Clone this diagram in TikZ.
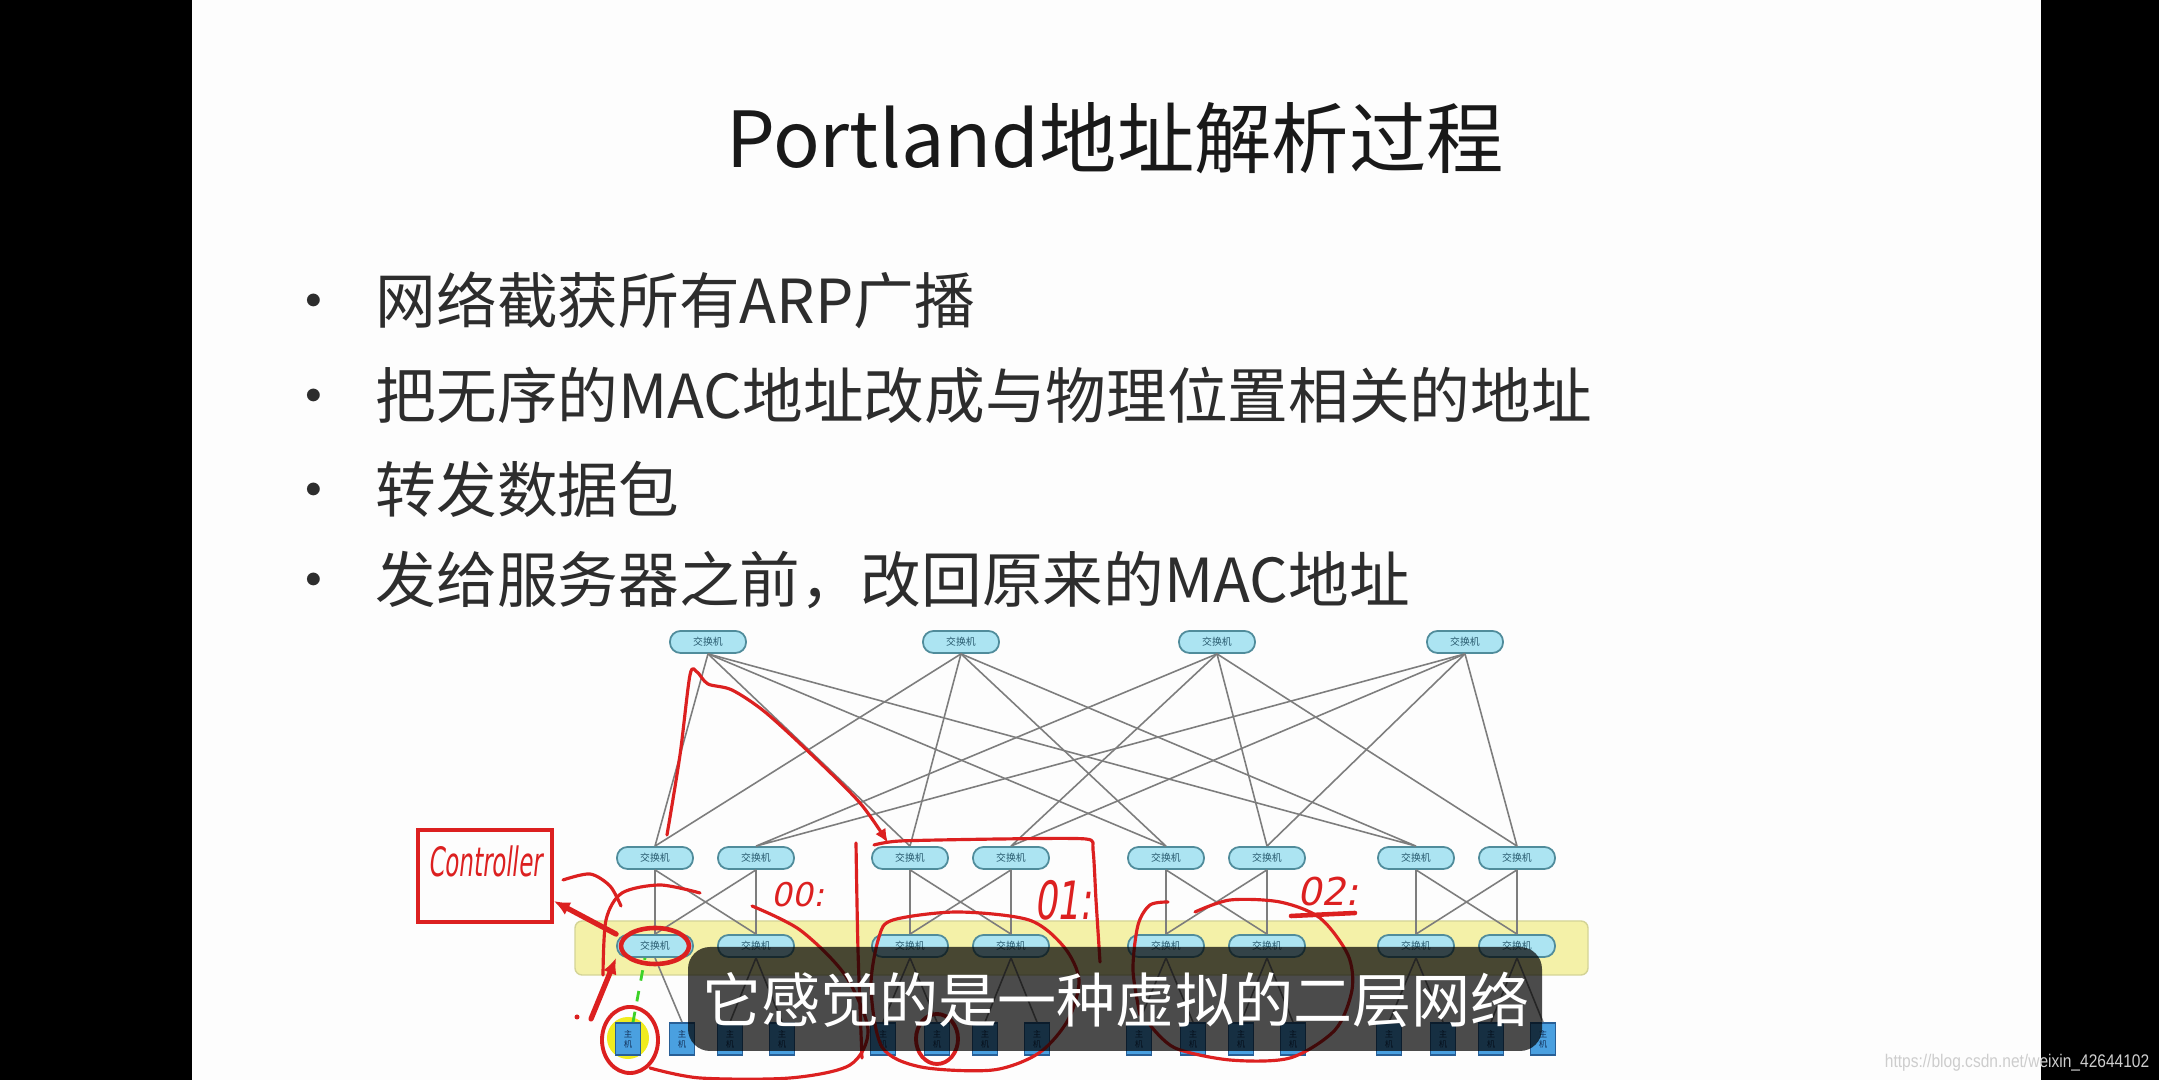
\documentclass[tikz,border=0pt]{standalone}
\usepackage{fontspec}
\usepackage{graphicx}
\usepackage{tikz}
\usetikzlibrary{positioning,arrows.meta}
\setmainfont{Noto Sans CJK SC}
\newfontfamily\penfont[FakeSlant=0.2]{DejaVu Sans}
\newfontfamily\urlfont{Liberation Sans}
\definecolor{slidebg}{RGB}{253,253,253}
\definecolor{titletext}{RGB}{25,25,25}
\definecolor{slidetext}{RGB}{45,45,45}
\definecolor{switchfill}{RGB}{172,228,242}
\definecolor{switchline}{RGB}{80,140,155}
\definecolor{switchtext}{RGB}{40,90,110}
\definecolor{hostfill}{RGB}{74,160,224}
\definecolor{hostline}{RGB}{40,95,150}
\definecolor{hosttext}{RGB}{20,50,90}
\definecolor{bandfill}{RGB}{244,241,168}
\definecolor{bandline}{RGB}{212,212,150}
\definecolor{linkgray}{RGB}{125,125,125}
\definecolor{penred}{RGB}{220,32,32}
\definecolor{pengreen}{RGB}{60,210,40}
\definecolor{hiyellow}{RGB}{240,236,30}
\definecolor{urlgray}{RGB}{205,205,205}

\tikzset{
  switchbox/.style={draw=switchline, fill=switchfill, line width=0.5pt, rounded corners=3pt,
    minimum width=0.76cm, minimum height=0.22cm, inner sep=0pt,
    font=\fontsize{2.8}{3}\selectfont, text=switchtext},
  hostbox/.style={draw=hostline, fill=hostfill, line width=0.5pt, minimum width=0.25cm,
    minimum height=0.32cm, inner sep=0pt, align=center,
    font=\fontsize{2.4}{2.8}\selectfont, text=hosttext},
  netlink/.style={draw=linkgray, line width=0.45pt},
  bullettext/.style={anchor=west, inner sep=0pt, text=slidetext, font=\fontsize{17.25}{20}\selectfont},
  bulletdot/.style={anchor=base, inner sep=0pt, text=slidetext, font=\fontsize{17.25}{20}\selectfont},
  penline/.style={draw=penred, line width=0.9pt, line cap=round, line join=round},
  penarrow/.style={penline, line width=1.5pt, -{Latex[length=0.16cm,width=0.14cm]}},
  pentext/.style={text=penred, inner sep=0pt}
}

\begin{document}
\begin{tikzpicture}[x=0.01cm, y=-0.01cm]
  \useasboundingbox (0,0) rectangle (2159,1080);
  \fill[black] (0,0) rectangle (2159,1080);
  \fill[slidebg] (192,0) rectangle (2041,1080);

  \node[inner sep=0pt, text=titletext, font=\fontsize{22}{26}\selectfont] (title) at (1115,138)
    {Portland地址解析过程};
  \node[bullettext] (b1) at (375,300) {网络截获所有ARP广播};
  \node[bullettext] (b2) at (375,395) {把无序的MAC地址改成与物理位置相关的地址};
  \node[bullettext] (b3) at (375,489) {转发数据包};
  \node[bullettext] (b4) at (375,580) {发给服务器之前，改回原来的MAC地址};
  \coordinate (dotcol) at (314,0);
  \foreach \b in {1,...,4}
    \node[bulletdot] (d\b) at (b\b.base -| dotcol) {•};

  \fill[bandfill, draw=bandline, rounded corners=2pt] (575,921) rectangle (1588,975);
  \fill[hiyellow] (628,1038) circle [radius=0.21cm];

  \foreach \c/\x in {1/708,2/961,3/1217,4/1465}
    \node[switchbox] (c\c) at (\x,642) {交换机};
  \foreach \p/\x in {1/655,2/910,3/1166,4/1416} {
    \node[switchbox] (a\p1) at (\x,858) {交换机};
    \node[switchbox] (a\p2) at (\x+101,858) {交换机};
    \node[switchbox] (e\p1) at (\x,946) {交换机};
    \node[switchbox] (e\p2) at (\x+101,946) {交换机};
    \node[hostbox] (h\p1) at (\x-27,1039) {主\\机};
    \node[hostbox] (h\p2) at (\x+27,1039) {主\\机};
    \node[hostbox] (h\p3) at (\x+75,1039) {主\\机};
    \node[hostbox] (h\p4) at (\x+127,1039) {主\\机};
  }
  \foreach \p in {1,...,4} {
    \draw[netlink] (c1.south) -- (a\p1.north) (c2.south) -- (a\p1.north)
                   (c3.south) -- (a\p2.north) (c4.south) -- (a\p2.north);
    \draw[netlink] (a\p1.south) -- (e\p1.north) (a\p1.south) -- (e\p2.north)
                   (a\p2.south) -- (e\p1.north) (a\p2.south) -- (e\p2.north);
    \draw[netlink] (e\p1.south) -- (h\p2.north) (e\p2.south) -- (h\p3.north)
                   (e\p2.south) -- (h\p4.north);
  }
  \foreach \p in {2,3,4}
    \draw[netlink] (e\p1.south) -- (h\p1.north);
  \draw[pengreen, dashed, line width=0.8pt] ([xshift=0.05cm]h11.north) -- ([xshift=-0.1cm]e11.south);

  % hand notes
  \node[draw=penred, line width=1pt, minimum width=1.34cm, minimum height=0.92cm] (ctrl) at (485,876) {};
  \node[pentext, font=\penfont\fontsize{11.5}{12}\selectfont, below=0.17cm of ctrl.north] (ctrlname)
    {\scalebox{0.57}[1]{Controller}};
  \draw[penarrow] (e11.north west) -- (ctrl.-20);
  \coordinate (arrowfoot) at (591,1019);
  \draw[penarrow] (arrowfoot) -- (e11.south west);
  \fill[penred] (577,1017) circle [radius=0.025cm];
  \draw[penline, line width=1.3pt] (e11) ellipse [x radius=0.34cm, y radius=0.18cm];
  \draw[penline, line width=1.1pt] (630,1040) ellipse [x radius=0.28cm, y radius=0.33cm];
  \draw[penline] plot[smooth] coordinates {(563,880) (590,874) (610,886) (621,906)};
  \draw[penline] plot[smooth] coordinates {(603,975) (606,920) (622,893) (660,885) (700,893)};
  \draw[penline] plot[smooth] coordinates {(752,906) (800,930) (845,975) (868,1030) (850,1065)
    (790,1078) (700,1078) (650,1068)};
  \draw[penline, -{Latex[length=0.14cm,width=0.12cm]}] plot[smooth, tension=0.5] coordinates {(667,835)
    (680,755) (690,675) (697,672) (708,684) (732,690) (765,712) (812,755) (860,803) (888,843)};
  \draw[penline] plot[smooth, tension=0.4] coordinates {(874,845) (900,841) (1000,839) (1086,839)
    (1093,850) (1096,900) (1100,962)};
  \draw[penline] plot[smooth] coordinates {(856,843) (858,950) (862,1058)};
  \draw[penline] plot[smooth cycle] coordinates {(893,920) (957,912) (1029,920) (1064,947) (1079,980)
    (1068,1020) (1039,1053) (993,1070) (921,1067) (882,1047) (871,987) (879,937)};
  \draw[penline, line width=1.1pt] (h22) ellipse [x radius=0.21cm, y radius=0.25cm];
  \draw[penline] plot[smooth] coordinates {(1168,902) (1150,905) (1138,925) (1133,970) (1140,1015)};
  \draw[penline] plot[smooth] coordinates {(1195,912) (1230,900) (1280,902) (1320,918) (1348,955)
    (1352,990) (1335,1030) (1290,1058) (1230,1060) (1175,1048) (1150,1025)};
  \node[pentext, font=\penfont\fontsize{9.3}{10}\selectfont] (pod00) at (798,895) {00:};
  \node[pentext, font=\penfont\fontsize{15}{16}\selectfont] (pod01) at (1063,900) {\scalebox{0.68}[1]{01:}};
  \node[pentext, font=\penfont\fontsize{10.9}{12}\selectfont] (pod02) at (1328,892) {02:};
  \draw[penline, line width=1.3pt] (1291,916) -- (1355,913);

  \fill[black, opacity=0.7, rounded corners=0.22cm] (688,947) rectangle (1542,1051);
  \node[inner sep=0pt, text=white, font=\fontsize{16.8}{19}\selectfont] (subtitle) at (1116,1000)
    {它感觉的是一种虚拟的二层网络};
  \node[anchor=east, inner sep=0pt, text=urlgray, font=\urlfont\fontsize{5.2}{6}\selectfont] (wmark)
    at (2150,1063) {\scalebox{0.85}[1]{https://blog.csdn.net/weixin\_42644102}};
\end{tikzpicture}
\end{document}
